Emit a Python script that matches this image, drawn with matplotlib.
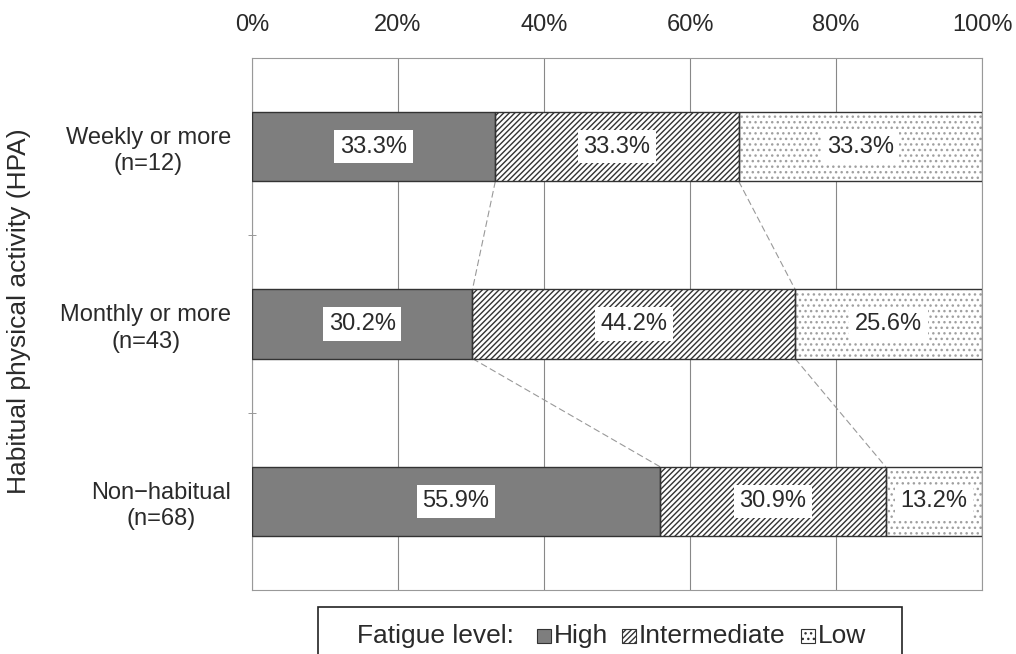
import numpy as np
import matplotlib
matplotlib.use("Agg")
import matplotlib.pyplot as plt
from matplotlib.patches import Rectangle

plt.rcParams["font.family"] = ["Liberation Sans", "DejaVu Sans"]
plt.rcParams["hatch.linewidth"] = 1.0

groups = ["Weekly or more\n(n=12)", "Monthly or more\n(n=43)", "Non\u2212habitual\n(n=68)"]
levels = ["High", "Intermediate", "Low"]
high = [33.3, 30.2, 55.9]
inter = [33.3, 44.2, 30.9]
low = [33.3, 25.6, 13.2]
xticks = [0, 20, 40, 60, 80, 100]

vals = np.array([high, inter, low])
# normalise rows to 100 so the bars meet the right edge
vals = vals / vals.sum(axis=0) * 100
styles = [dict(color="#7e7e7e", hatch=None, hc="#333333"),
          dict(color="white", hatch="//////", hc="#333333"),
          dict(color="white", hatch="...", hc="#a0a0a0")]
FS = 17
TXT = "#2a2a2a"

fig = plt.figure(figsize=(10.16, 6.54), dpi=100)
ax = fig.add_axes([252/1016, 1-590/654, 730/1016, 532/654])
ypos = np.arange(len(groups))
h = 0.39
left = np.zeros(len(groups))
for k, lv in enumerate(levels):
    st = styles[k]
    ax.barh(ypos, vals[k], left=left, height=h, color=st["color"],
            edgecolor=st["hc"], linewidth=0, hatch=st["hatch"], zorder=3, label=lv)
    ax.barh(ypos, vals[k], left=left, height=h, fill=False, edgecolor="#333333",
            linewidth=1.0, zorder=4)
    raw = [high, inter, low][k]
    for i in range(len(groups)):
        ax.text(left[i] + vals[k][i]/2, ypos[i], f"{raw[i]:.1f}%", ha="center", va="center",
                fontsize=FS, color=TXT, zorder=5,
                bbox=dict(facecolor="white", edgecolor="none", pad=4))
    left = left + vals[k]

# connector lines between bar boundaries
cum = np.cumsum(vals, axis=0)
for i in range(len(groups) - 1):
    for k in range(2):
        ax.plot([cum[k][i], cum[k][i+1]], [ypos[i] + h/2, ypos[i+1] - h/2],
                color="#999999", lw=0.8, ls=(0, (6, 3)), zorder=2)

ax.set_xlim(0, 100)
ax.set_ylim(2.5, -0.5)
ax.set_xticks(xticks)
ax.set_xticklabels([f"{t}%" for t in xticks], fontsize=FS, color=TXT)
ax.xaxis.tick_top()
ax.tick_params(axis="x", length=0, pad=16)
ax.set_yticks(ypos)
ax.set_yticklabels(groups, fontsize=FS, color=TXT, multialignment="center", linespacing=1.25)
ax.set_yticks([0.5, 1.5], minor=True)
ax.tick_params(axis="y", which="major", length=0, pad=15)
ax.tick_params(axis="y", which="minor", length=6, direction="inout", color="#888888")
ax.grid(axis="x", color="#888888", lw=0.8, zorder=1)
for s in ax.spines.values():
    s.set_edgecolor("#999999")
    s.set_linewidth(0.8)
ax.set_ylabel("Habitual physical activity (HPA)", fontsize=19, color=TXT)
ax.yaxis.set_label_coords((31 - 252)/730, 0.525)

# legend box at the bottom
LFS = 19
fig.patches.append(Rectangle((318/1016, -0.05), 584/1016, 0.05 + 1-607/654,
                             transform=fig.transFigure, fill=False, edgecolor="#222222", lw=1.2))
ly = 1-636/654
fig.text(357/1016, ly, "Fatigue level:", fontsize=LFS, color=TXT, va="center")
sq_x = [537, 622, 801]
for name, st, x in zip(levels, styles, sq_x):
    fig.patches.append(Rectangle((x/1016, 1-643/654), 14/1016, 14/654, transform=fig.transFigure,
                                 facecolor=st["color"], hatch=st["hatch"], edgecolor="#333333", lw=0.8))
    fig.text((x + 17)/1016, ly, name, fontsize=LFS, color=TXT, va="center")

fig.savefig("out.png", dpi=100)
